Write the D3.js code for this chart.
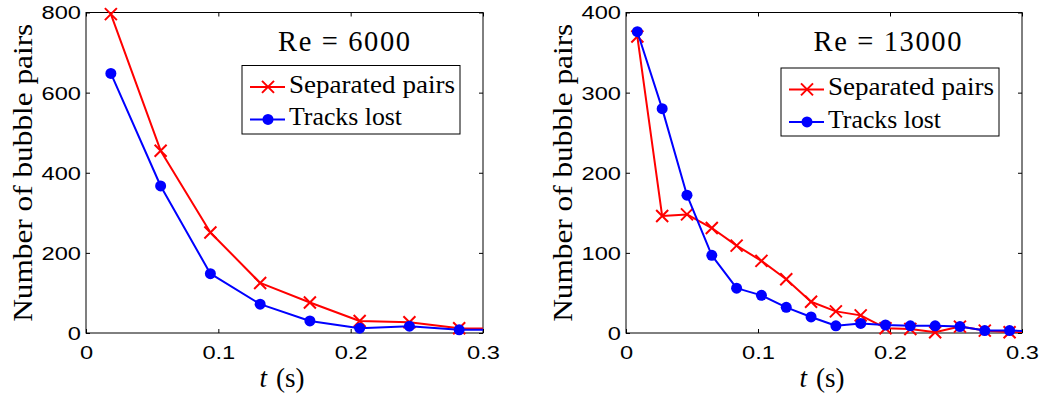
<!DOCTYPE html>
<html>
<head>
<meta charset="utf-8">
<script src="https://cdn.jsdelivr.net/npm/d3@7"></script>
<style>
  html, body { margin: 0; padding: 0; background: #fff; }
  svg { display: block; }
</style>
</head>
<body>
<svg id="chart" width="1049" height="398"></svg>
<script>
// ---- Re = 6000 ----
const timeRe6000      = [0.0188, 0.0564, 0.0940, 0.1316, 0.1692, 0.2068, 0.2444, 0.2820, 0.3196];
const separatedRe6000 = [796, 455, 251, 125, 76, 30, 27, 12, 10];
const lostRe6000      = [648, 367, 148, 72, 30, 12, 17, 8, 8];

// ---- Re = 13000 ----
const timeRe13000      = [0.0086, 0.0274, 0.0462, 0.0650, 0.0838, 0.1026, 0.1214, 0.1402, 0.1590,
                          0.1778, 0.1966, 0.2154, 0.2342, 0.2530, 0.2718, 0.2906, 0.3094];
const separatedRe13000 = [370, 146, 148, 131, 109, 90, 67, 39, 27, 22, 6, 5, 1, 8, 3, 1, 1];
const lostRe13000      = [376, 280, 172, 97, 56, 47, 32, 20, 9, 12, 10, 9, 9, 8, 3, 3, 2];

// ---- axes ----
const xTicks = [0, 0.1, 0.2, 0.3];
const xTickLabels = ["0", "0.1", "0.2", "0.3"];
const yTicksRe6000 = [0, 200, 400, 600, 800];
const yTickLabelsRe6000 = ["0", "200", "400", "600", "800"];
const yTicksRe13000 = [0, 100, 200, 300, 400];
const yTickLabelsRe13000 = ["0", "100", "200", "300", "400"];

const titles = ["Re = 6000", "Re = 13000"];
const seriesNames = ["Separated pairs", "Tracks lost"];
const xLabelVar = "t";
const xLabelUnit = "(s)";
const yLabel = "Number of bubble pairs";

// ---- layout ----
const panels = [
  { times: timeRe6000, sep: separatedRe6000, lost: lostRe6000, yMax: 800,
    yTicks: yTicksRe6000, yTickLabels: yTickLabelsRe6000, title: titles[0],
    left: 86, right: 483, top: 12.5, bottom: 333,
    titleX: 344, titleW: 132, legendX: 242, legendY: 65.5, legendH: 68.5 },
  { times: timeRe13000, sep: separatedRe13000, lost: lostRe13000, yMax: 400,
    yTicks: yTicksRe13000, yTickLabels: yTickLabelsRe13000, title: titles[1],
    left: 626, right: 1022, top: 12.5, bottom: 333,
    titleX: 887.5, titleW: 148, legendX: 781, legendY: 68, legendH: 68 }
];

const SANS = '"Liberation Sans"';
const SERIF = '"Liberation Serif"';
const TICK_FONT = 18.5;
const TICK_STRETCH = 1.28;
const RED = "#ff0000";
const BLUE = "#0000ff";

const svg = d3.select("#chart");
const defs = svg.append("defs");

function crossPath(cx, cy, h) {
  return `M${cx - h},${cy - h}L${cx + h},${cy + h}M${cx - h},${cy + h}L${cx + h},${cy - h}`;
}

function styleAxis(sel) {
  sel.attr("font-family", null).attr("font-size", null);
  sel.select(".domain").remove();
  sel.selectAll(".tick line").attr("stroke", "#000").attr("stroke-width", 1);
  sel.selectAll(".tick text")
    .attr("fill", "#000")
    .style("font-family", SANS)
    .style("font-size", TICK_FONT + "px");
}

panels.forEach((p, i) => {
  const x = d3.scaleLinear().domain([0, 0.3]).range([p.left, p.right]);
  const y = d3.scaleLinear().domain([0, p.yMax]).range([p.bottom, p.top]);
  const g = svg.append("g");

  const clipId = "plot-clip-" + i;
  defs.append("clipPath").attr("id", clipId)
    .append("rect")
    .attr("x", p.left).attr("y", p.top - 20)
    .attr("width", p.right - p.left).attr("height", p.bottom - p.top + 20);

  // bottom axis with labels
  g.append("g")
    .attr("transform", `translate(0,${p.bottom})`)
    .call(d3.axisBottom(x).tickValues(xTicks)
      .tickFormat((d, j) => xTickLabels[j])
      .tickSizeInner(-4).tickSizeOuter(0))
    .call(styleAxis)
    .call(a => a.selectAll(".tick text")
      .attr("y", 26.5).attr("dy", null)
      .attr("transform", `scale(${TICK_STRETCH},1)`));

  // left axis with labels
  g.append("g")
    .attr("transform", `translate(${p.left},0)`)
    .call(d3.axisLeft(y).tickValues(p.yTicks)
      .tickFormat((d, j) => p.yTickLabels[j])
      .tickSizeInner(-4).tickSizeOuter(0))
    .call(styleAxis)
    .call(a => a.selectAll(".tick text")
      .attr("x", -5 / TICK_STRETCH).attr("dy", "0.35em")
      .attr("transform", `scale(${TICK_STRETCH},1)`));

  // mirrored ticks on top and right
  g.append("g")
    .attr("transform", `translate(0,${p.top})`)
    .call(d3.axisTop(x).tickValues(xTicks).tickFormat("")
      .tickSizeInner(-4).tickSizeOuter(0))
    .call(styleAxis);
  g.append("g")
    .attr("transform", `translate(${p.right},0)`)
    .call(d3.axisRight(y).tickValues(p.yTicks).tickFormat("")
      .tickSizeInner(-4).tickSizeOuter(0))
    .call(styleAxis);

  // frame
  g.append("rect")
    .attr("x", p.left).attr("y", p.top)
    .attr("width", p.right - p.left).attr("height", p.bottom - p.top)
    .attr("fill", "none").attr("stroke", "#000").attr("stroke-width", 1);

  const line = d3.line().x(d => x(d.t)).y(d => y(d.v));
  const sepPts = p.times.map((t, j) => ({ t, v: p.sep[j] }));
  const lostPts = p.times.map((t, j) => ({ t, v: p.lost[j] }));
  const inRange = d => d.t <= 0.3;

  // separated pairs: red line with crosses
  g.append("path").datum(sepPts)
    .attr("clip-path", `url(#${clipId})`)
    .attr("d", line).attr("fill", "none")
    .attr("stroke", RED).attr("stroke-width", 2).attr("stroke-linejoin", "round");
  g.append("g").selectAll("path").data(sepPts.filter(inRange)).join("path")
    .attr("d", d => crossPath(x(d.t), y(d.v), 6))
    .attr("stroke", RED).attr("stroke-width", 2).attr("fill", "none");

  // tracks lost: blue line with dots
  g.append("path").datum(lostPts)
    .attr("clip-path", `url(#${clipId})`)
    .attr("d", line).attr("fill", "none")
    .attr("stroke", BLUE).attr("stroke-width", 2).attr("stroke-linejoin", "round");
  g.append("g").selectAll("circle").data(lostPts.filter(inRange)).join("circle")
    .attr("cx", d => x(d.t)).attr("cy", d => y(d.v)).attr("r", 5.5)
    .attr("fill", BLUE);

  // title
  g.append("text")
    .attr("x", p.titleX).attr("y", 50.7)
    .attr("text-anchor", "middle")
    .style("font-family", SERIF).style("font-size", "28.5px")
    .attr("textLength", p.titleW).attr("lengthAdjust", "spacing")
    .text(p.title);

  // legend
  const lg = g.append("g").attr("transform", `translate(${p.legendX},${p.legendY})`);
  lg.append("rect").attr("width", 218).attr("height", p.legendH)
    .attr("fill", "#fff").attr("stroke", "#000").attr("stroke-width", 1);
  const rows = [
    { name: seriesNames[0], color: RED, kind: "cross", base: 27, len: 166 },
    { name: seriesNames[1], color: BLUE, kind: "dot", base: 59.5, len: 113 }
  ];
  rows.forEach(r => {
    const my = r.base - 5.6;
    lg.append("line").attr("x1", 8).attr("x2", 43).attr("y1", my).attr("y2", my)
      .attr("stroke", r.color).attr("stroke-width", 2);
    if (r.kind === "cross") {
      lg.append("path").attr("d", crossPath(26, my, 6))
        .attr("stroke", r.color).attr("stroke-width", 2).attr("fill", "none");
    } else {
      lg.append("circle").attr("cx", 26).attr("cy", my).attr("r", 5.5).attr("fill", r.color);
    }
    lg.append("text").attr("x", 47).attr("y", r.base)
      .style("font-family", SERIF).style("font-size", "25.5px")
      .attr("textLength", r.len).attr("lengthAdjust", "spacingAndGlyphs")
      .text(r.name);
  });

  // x label
  const xl = g.append("text")
    .attr("x", p.left + 196).attr("y", 387)
    .attr("text-anchor", "middle")
    .style("font-family", SERIF).style("font-size", "27px");
  xl.append("tspan").style("font-style", "italic").text(xLabelVar);
  xl.append("tspan").attr("dx", 9).text(xLabelUnit);

  // y label
  g.append("text")
    .attr("transform", `translate(${p.left - 54.5},${(p.top + p.bottom) / 2}) rotate(-90)`)
    .attr("text-anchor", "middle")
    .style("font-family", SERIF).style("font-size", "27.5px")
    .attr("textLength", 298).attr("lengthAdjust", "spacingAndGlyphs")
    .text(yLabel);
});
</script>
</body>
</html>
